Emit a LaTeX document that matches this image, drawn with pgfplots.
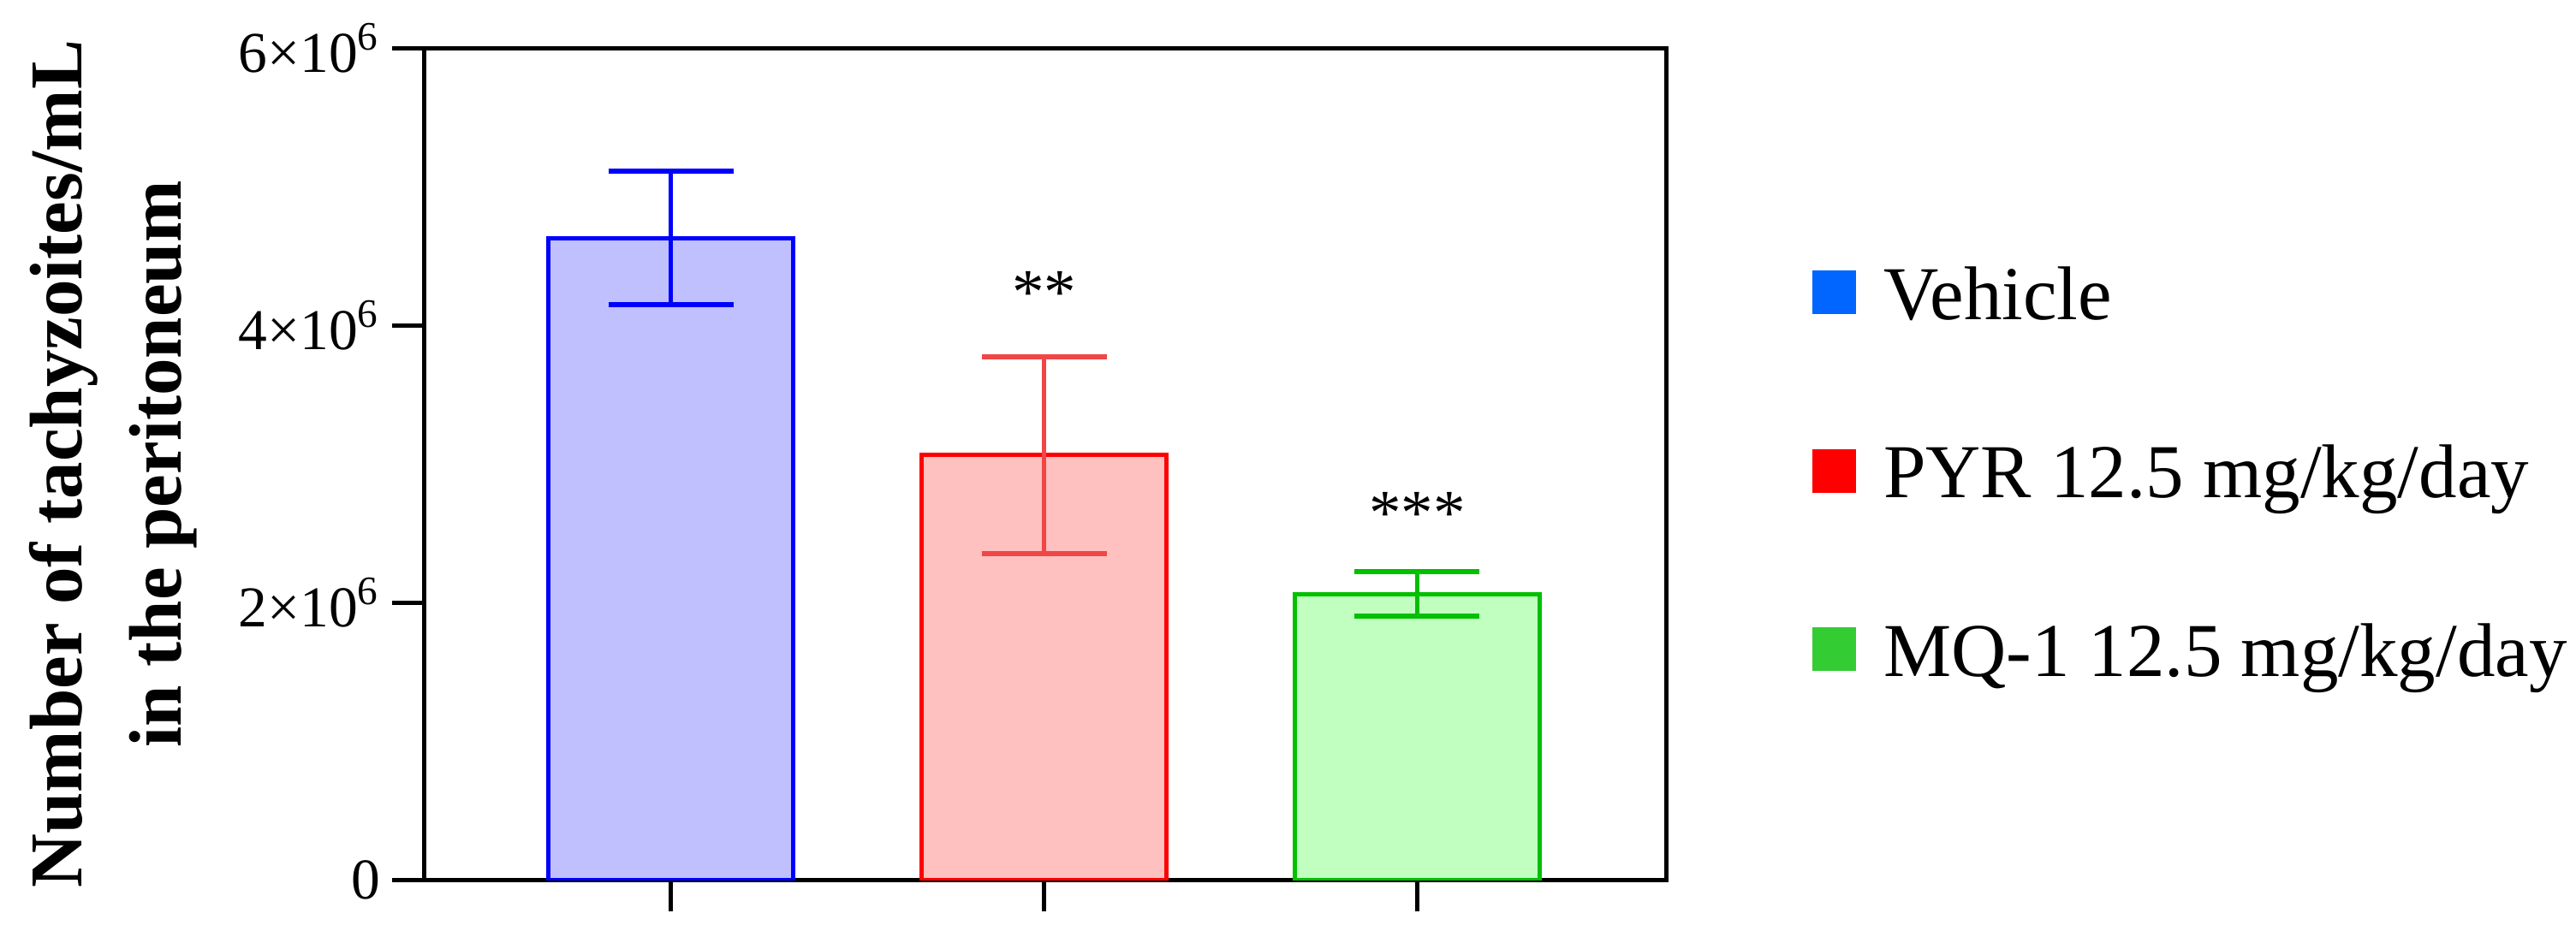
\documentclass[border=0pt]{standalone}
\usepackage{pgfplots}
\pgfplotsset{compat=1.18}
\usepackage{fontspec}
\setmainfont{Liberation Serif}
\definecolor{bedge}{RGB}{0,0,255}
\definecolor{bfill}{RGB}{192,192,255}
\definecolor{redge}{RGB}{255,0,0}
\definecolor{rfill}{RGB}{255,192,192}
\definecolor{rerr}{RGB}{240,70,70}
\definecolor{gedge}{RGB}{0,192,0}
\definecolor{gfill}{RGB}{192,255,192}
\definecolor{legblue}{RGB}{0,102,255}
\definecolor{legred}{RGB}{255,0,0}
\definecolor{leggreen}{RGB}{51,204,51}
\begin{document}
\begin{tikzpicture}
\useasboundingbox (0,0) rectangle (601.8pt,219pt);
\begin{axis}[
  at={(99pt,13.3pt)}, anchor=south west,
  scale only axis, width=290.2pt, height=194.5pt,
  xmin=-0.663, xmax=2.667, ymin=0, ymax=6e6,
  xtick={0,1,2}, xticklabels={,,},
  ytick={0,2e6,4e6,6e6},
  yticklabels={0, 2×10\textsuperscript{6}, 4×10\textsuperscript{6}, 6×10\textsuperscript{6}},
  scaled y ticks=false,
  xtick pos=bottom, ytick pos=left, tick align=outside,
  major tick length=7.4pt,
  every tick/.style={black, line width=1pt},
  axis line style={line width=1pt},
  yticklabel style={font=\fontsize{13.5}{16}\selectfont, inner sep=0pt, xshift=-2.6pt},
  ylabel={Number of tachyzoites/mL\\in the peritoneum},
  ylabel style={align=center, font=\bfseries\fontsize{17.4}{23.2}\selectfont,
    at={(axis description cs:-0.3184,0.5)}, anchor=north, inner sep=0pt},
  legend style={at={(1.1172,0.7366)}, anchor=north west, draw=none, fill=none,
    inner sep=0pt, row sep=25.7pt, column sep=6.4pt,
    font=\fontsize{17.8}{20}\selectfont,
    nodes={inner sep=0pt, text height=12pt, text depth=4pt, anchor=base west},
    cells={anchor=base west}},
]
\addplot[ybar, bar shift=0pt, bar width=0.656, draw=bedge, fill=bfill, line width=1pt, forget plot,
  error bars/.cd, y dir=both, y explicit,
  error bar style={line width=1pt, draw=bedge},
  error mark options={rotate=90, line width=1.15pt, mark size=14.6pt, draw=bedge}]
  coordinates {(0,4.63e6) +- (0,0.48e6)};
\addplot[ybar, bar shift=0pt, bar width=0.656, draw=redge, fill=rfill, line width=1pt, forget plot,
  error bars/.cd, y dir=both, y explicit,
  error bar style={line width=1pt, draw=rerr},
  error mark options={rotate=90, line width=1.15pt, mark size=14.6pt, draw=rerr}]
  coordinates {(1,3.065e6) +- (0,0.71e6)};
\addplot[ybar, bar shift=0pt, bar width=0.656, draw=gedge, fill=gfill, line width=1pt, forget plot,
  error bars/.cd, y dir=both, y explicit,
  error bar style={line width=1pt, draw=gedge},
  error mark options={rotate=90, line width=1.15pt, mark size=14.6pt, draw=gedge}]
  coordinates {(2,2.062e6) +- (0,0.16e6)};
\node[anchor=north, inner sep=0pt, font=\fontsize{15}{16}\selectfont] at (axis cs:1,4.395e6) {**};
\node[anchor=north, inner sep=0pt, font=\fontsize{15}{16}\selectfont] at (axis cs:2,2.80e6) {***};
\addlegendimage{legend image code/.code={\fill[legblue] (0pt,1.4pt) rectangle (9.8pt,11.2pt);}}
\addlegendentry{Vehicle}
\addlegendimage{legend image code/.code={\fill[legred] (0pt,1.4pt) rectangle (9.8pt,11.2pt);}}
\addlegendentry{PYR 12.5 mg/kg/day}
\addlegendimage{legend image code/.code={\fill[leggreen] (0pt,1.4pt) rectangle (9.8pt,11.2pt);}}
\addlegendentry{MQ-1 12.5 mg/kg/day}
\end{axis}
\end{tikzpicture}
\end{document}
